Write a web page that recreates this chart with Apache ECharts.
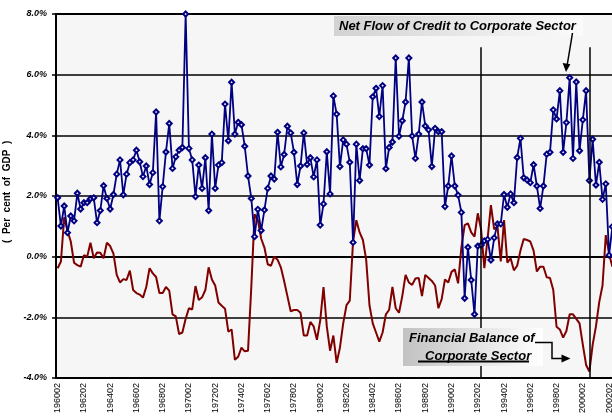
<!DOCTYPE html>
<html>
<head>
<meta charset="utf-8">
<script src="https://cdn.jsdelivr.net/npm/echarts@6/dist/echarts.min.js"></script>
<style>
    html, body {margin: 0; padding: 0; background: #fff; overflow: hidden;}
    #chartDiv {width: 640px; height: 418px;}
</style>
</head>
<body>
<div id="chartDiv"></div>
<script>
    // quarterly, 1960 Q2 onwards (label = year + '0' + quarter)
    var startYear = 1960
    var startQuarter = 2

    // net flow of credit to corporate sector, % of GDP
    var creditFlow = [
        1.94, 1.01, 1.67, 0.79, 1.34, 1.18, 2.09, 1.57, 1.78, 1.78,
        1.91, 1.94, 1.12, 1.52, 2.34, 1.92, 1.57, 2.05, 2.72, 3.19,
        2.04, 2.72, 3.10, 3.19, 3.51, 3.13, 2.64, 2.99, 2.38, 2.77,
        4.77, 1.18, 2.31, 3.45, 4.39, 2.91, 3.29, 3.51, 3.60, 8.00,
        3.57, 3.19, 1.98, 3.02, 2.25, 3.26, 1.52, 4.04, 2.25, 3.02,
        3.10, 5.03, 3.82, 5.75, 4.04, 4.43, 4.35, 3.64, 2.66, 1.92,
        0.66, 1.56, 0.86, 1.54, 2.25, 2.66, 2.56, 4.10, 2.96, 3.37,
        4.30, 4.08, 3.44, 2.38, 2.99, 4.08, 3.04, 3.26, 2.63, 3.19,
        1.04, 1.74, 3.46, 2.07, 5.30, 4.70, 2.97, 3.85, 3.71, 3.11,
        0.47, 3.71, 2.51, 3.56, 3.56, 3.02, 5.27, 5.55, 4.62, 5.64,
        2.90, 3.60, 3.78, 6.55, 3.97, 4.48, 5.10, 6.55, 3.98, 3.24,
        4.04, 5.10, 4.31, 4.18, 2.97, 4.23, 4.12, 4.12, 1.65, 2.33,
        3.32, 2.33, 2.03, 1.46, -1.37, 0.31, -0.77, -1.90, 0.35, 0.38,
        0.52, 0.57, -0.11, 0.62, 1.08, 1.08, 2.05, 1.63, 2.07, 1.78,
        3.27, 3.90, 2.60, 2.53, 2.44, 3.03, 2.33, 1.59, 2.33, 3.38,
        3.44, 4.84, 4.54, 5.47, 3.44, 4.42, 5.90, 3.24, 5.76, 3.49,
        4.51, 5.47, 2.51, 3.87, 2.36, 3.11, 1.89, 2.40, 0.05, 0.99
    ]

    // financial balance of corporate sector, % of GDP
    var finBalance = [
        -0.38, -0.16, 1.30, 0.85, 0.50, -0.20, -0.28, -0.33, 0.05, 0.00,
        0.46, -0.05, 0.14, 0.13, -0.05, 0.46, 0.35, 0.10, -0.60, -0.85,
        -0.74, -0.77, -0.46, -1.10, -1.20, -1.25, -1.35, -1.00, -0.38, -0.55,
        -0.67, -1.20, -1.20, -1.00, -1.12, -1.90, -1.97, -2.55, -2.50, -2.05,
        -1.70, -1.74, -0.97, -1.43, -1.34, -1.10, -0.35, -0.75, -0.95, -1.51,
        -1.62, -1.72, -2.47, -2.40, -3.40, -3.30, -3.00, -3.12, -3.10, -1.00,
        1.40, 1.20, 0.60, 0.30, -0.25, -0.30, 0.00, -0.10, -0.35, -0.80,
        -1.30, -1.80, -1.76, -1.76, -1.85, -2.60, -2.60, -2.15, -2.30, -2.74,
        -2.10, -1.00, -2.30, -3.10, -2.60, -3.50, -3.00, -2.20, -1.60, -1.45,
        0.50, 1.20, 0.80, 0.55, -0.10, -1.60, -2.20, -2.50, -2.80, -2.50,
        -1.90, -1.75, -1.00, -1.70, -1.85, -1.30, -0.60, -0.85, -0.93, -0.72,
        -0.70, -1.30, -0.60, -0.70, -0.80, -0.95, -1.70, -1.40, -0.75, -0.85,
        -0.50, -0.42, -0.88, 0.30, 1.04, 1.10, 0.80, 0.66, 1.43, 0.90,
        -0.38, 0.60, 1.70, 0.90, 1.00, -0.16, 1.21, -0.20, -0.05, -0.45,
        -0.30, 0.20, 0.58, 0.55, 0.50, 0.20, -0.49, -0.33, -0.33, -0.68,
        -0.70, -1.10, -2.31, -2.40, -2.67, -2.45, -1.90, -1.90, -2.05, -2.20,
        -2.90, -3.57, -3.79, -2.90, -2.30, -1.50, -0.95, 0.71, 0.10, -0.33
    ]

    // the two vertical marker lines
    var markQuarters = ['199203', '200004']
    var markTop = 6.9

    var yMin = -4
    var yMax = 8
    var yStep = 2

    var quarters = []
    for (var k = 0; k < creditFlow.length; k++) {
        var q = startQuarter - 1 + k
        quarters.push(String(startYear + Math.floor(q / 4)) + '0' + (q % 4 + 1))
    }

    var font = 'Liberation Sans'
    var boxFont = 'italic bold 13px "Liberation Sans"'

    var marks = markQuarters.map(function (m) {
        return [{coord: [m, markTop]}, {coord: [m, yMin]}]
    })

    var option = {
        animation: false,
        backgroundColor: '#fff',
        grid: {left: 56, top: 14, width: 558, height: 364, show: true,
            containLabel: false, outerBoundsMode: 'none',
            backgroundColor: '#f6f6f6', borderColor: '#000', borderWidth: 2},
        xAxis: {
            type: 'category',
            data: quarters,
            boundaryGap: true,
            axisLine: {lineStyle: {color: '#000', width: 2}},
            axisTick: {interval: 0, length: 4, lineStyle: {color: '#000', width: 1.5}},
            axisLabel: {interval: 7, rotate: 90, margin: 5, color: '#000',
                fontFamily: font, fontSize: 9},
            splitLine: {show: false}
        },
        yAxis: {
            type: 'value',
            min: yMin, max: yMax, interval: yStep,
            name: '   (  Per  cent  of  GDP  )',
            nameLocation: 'middle',
            nameGap: 42,
            nameTextStyle: {color: '#000', fontFamily: font, fontWeight: 'bold', fontSize: 10},
            axisLine: {show: true, lineStyle: {color: '#000', width: 2}},
            axisTick: {show: true, length: 4, lineStyle: {color: '#000', width: 1.5}},
            axisLabel: {margin: 9, color: '#000', fontFamily: font, fontSize: 9,
                fontWeight: 'bold', fontStyle: 'italic',
                formatter: function (v) { return v.toFixed(1) + '%' }},
            splitLine: {lineStyle: {color: '#000', width: 1.5}}
        },
        series: [
            {
                name: 'Net Flow of Credit to Corporate Sector',
                type: 'line',
                data: creditFlow,
                symbol: 'emptyDiamond',
                symbolSize: 5,
                showAllSymbol: true,
                lineStyle: {color: '#000080', width: 1.8},
                itemStyle: {color: '#000080', borderWidth: 1.5},
                z: 3,
                markLine: {
                    silent: true, symbol: 'none', label: {show: false},
                    lineStyle: {color: '#000', width: 1.5, type: 'solid'},
                    data: marks
                }
            },
            {
                name: 'Financial Balance of Corporate Sector',
                type: 'line',
                data: finBalance,
                symbol: 'none',
                lineStyle: {color: '#800000', width: 2},
                z: 2
            }
        ],
        graphic: [
            {type: 'rect', shape: {x: 334, y: 16, width: 249, height: 20}, z: 10,
                style: {fill: new echarts.graphic.LinearGradient(0, 0, 1, 0,
                    [{offset: 0, color: '#d2d2d2'}, {offset: 1, color: '#fbfbfb'}])}},
            {type: 'text', x: 339, y: 26.5, z: 11,
                style: {text: 'Net Flow of Credit to Corporate Sector', font: boxFont,
                    fill: '#000', verticalAlign: 'middle', textVerticalAlign: 'middle'}},
            {type: 'line', z: 11, shape: {x1: 572.5, y1: 33, x2: 567.2, y2: 65},
                style: {stroke: '#000', lineWidth: 1.5}},
            {type: 'polygon', z: 11, shape: {points: [[566, 72], [562.6, 63], [570.4, 64.2]]},
                style: {fill: '#000'}},

            {type: 'rect', shape: {x: 403, y: 328, width: 140, height: 38}, z: 10,
                style: {fill: new echarts.graphic.LinearGradient(0, 0, 1, 0,
                    [{offset: 0, color: '#c2c2c2'}, {offset: 1, color: '#ffffff'}])}},
            {type: 'text', x: 409, y: 338.5, z: 11,
                style: {text: 'Financial Balance of', font: boxFont,
                    fill: '#000', verticalAlign: 'middle', textVerticalAlign: 'middle'}},
            {type: 'text', x: 425, y: 356.5, z: 11,
                style: {text: 'Corporate Sector', font: boxFont,
                    fill: '#000', verticalAlign: 'middle', textVerticalAlign: 'middle'}},
            {type: 'line', z: 12, shape: {x1: 418, y1: 361.5, x2: 529, y2: 361.5},
                style: {stroke: '#000', lineWidth: 2}},
            {type: 'polyline', z: 11,
                shape: {points: [[535, 342.5], [552, 342.5], [552, 358.5], [563, 358.5]]},
                style: {stroke: '#000', lineWidth: 1.5, fill: null}},
            {type: 'polygon', z: 11, shape: {points: [[570.5, 358.5], [561.5, 354.5], [561.5, 362.5]]},
                style: {fill: '#000'}}
        ]
    }

    var chart = echarts.init(document.getElementById('chartDiv'))
    chart.setOption(option)
</script>
</body>
</html>
